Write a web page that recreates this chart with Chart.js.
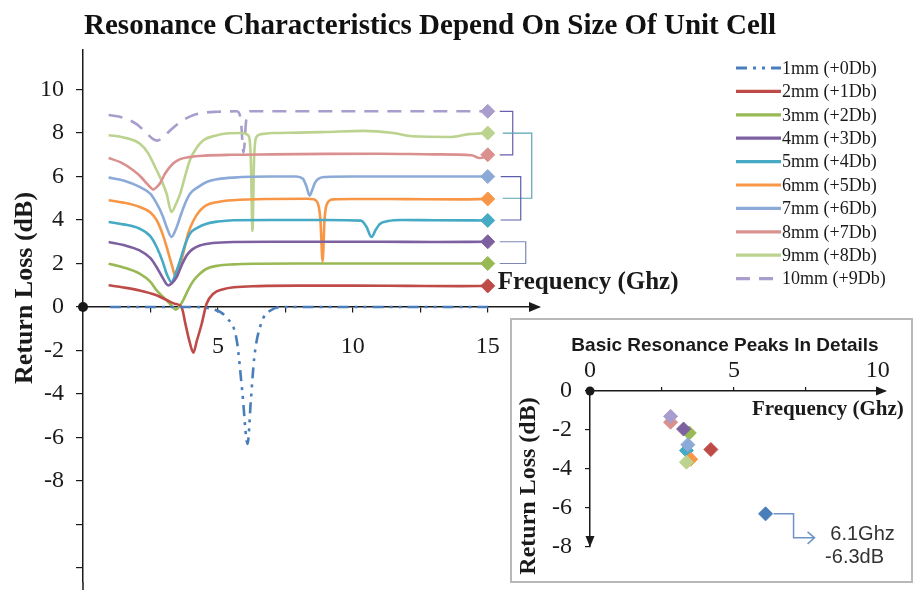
<!DOCTYPE html>
<html>
<head>
<meta charset="utf-8">
<title>Resonance Characteristics</title>
<script src="https://cdn.jsdelivr.net/npm/chart.js@4.4.0/dist/chart.umd.min.js"></script>
<style>
    html, body { margin: 0; padding: 0; background: #fff; }
    #wrap { position: relative; width: 915px; height: 590px; overflow: hidden; background: #fff; }
    #mainChart { position: absolute; left: 0; top: 0; }
    #title {
        position: absolute; left: 0; top: 8px; width: 860px;
        text-align: center; line-height: 28px;
        font: bold 29px "Liberation Serif", serif; color: #111;
    }
    #insetBox {
        position: absolute; left: 510px; top: 318px; width: 399px; height: 261px;
        border: 2px solid #b8b8b8; background: #fff;
    }
</style>
</head>
<body>
<div id="wrap">
    <canvas id="mainChart" width="915" height="590"></canvas>
    <div id="title">Resonance Characteristics Depend On Size Of Unit Cell</div>
    <div id="insetBox"><canvas id="insetChart" width="399" height="261"></canvas></div>
</div>

<script>
// --- data (frequency in GHz, return loss in dB incl. offset) ---
const seriesNames = ['1mm (+0Db)', '2mm (+1Db)', '3mm (+2Db)', '4mm (+3Db)', '5mm (+4Db)',
                     '6mm (+5Db)', '7mm (+6Db)', '8mm (+7Db)', '9mm (+8Db)', '10mm (+9Db)'];

const freq1 = [1, 2, 3, 4, 4.8, 5.3, 5.7, 5.9, 6.1, 6.22, 6.35, 6.6, 6.95, 7.5, 9, 11, 13, 15];
const loss1 = [0, 0, 0, 0, -0.1, -0.47, -1.55, -3.85, -6.3, -4.3, -2.3, -0.77, -0.16, 0, 0, 0, 0, 0];

const freq2 = [0.95, 1.5, 2.1, 2.7, 3.1, 3.4, 3.65, 3.8, 3.95, 4.09, 4.22, 4.4, 4.58, 4.83, 5.2, 5.6, 6.5, 8, 10, 12, 14, 15];
const loss2 = [1.0, 0.9, 0.76, 0.55, 0.32, 0.15, 0.0, -0.8, -1.6, -2.1, -1.55, -0.77, 0.15, 0.61, 0.82, 0.91, 0.96, 0.98, 0.98, 0.97, 0.96, 0.97];

const freq3 = [0.95, 1.5, 2.1, 2.5, 2.73, 2.95, 3.1, 3.3, 3.44, 3.58, 3.71, 3.9, 4.1, 4.35, 4.58, 5.0, 5.57, 6.5, 8, 10, 12, 14, 15];
const loss3 = [1.99, 1.82, 1.53, 1.15, 0.76, 0.48, 0.3, 0.04, -0.13, 0.04, 0.3, 0.8, 1.22, 1.55, 1.76, 1.9, 1.96, 1.99, 2.0, 2.0, 2.0, 2.0, 2.0];

const freq4 = [0.95, 1.5, 2.1, 2.5, 2.73, 2.95, 3.16, 3.3, 3.47, 3.65, 3.84, 4.05, 4.33, 4.8, 5.57, 7, 9, 11, 13, 15];
const loss4 = [2.99, 2.85, 2.6, 2.25, 1.83, 1.35, 0.99, 1.1, 1.37, 1.9, 2.37, 2.65, 2.83, 2.94, 2.99, 3.0, 3.0, 3.0, 2.99, 3.0];

const freq5 = [0.95, 1.5, 2.1, 2.5, 2.73, 2.95, 3.1, 3.28, 3.45, 3.6, 3.78, 3.96, 4.25, 4.58, 5.0, 5.57, 7, 9, 10.3, 10.5, 10.69, 10.85, 11.0, 11.3, 11.8, 13, 15];
const loss5 = [3.91, 3.8, 3.6, 3.25, 2.76, 2.1, 1.53, 1.14, 1.6, 2.14, 2.85, 3.37, 3.65, 3.83, 3.93, 3.99, 4.0, 4.0, 3.97, 3.7, 3.22, 3.55, 3.82, 3.95, 4.0, 3.99, 3.98];

const freq6 = [0.95, 1.5, 2.1, 2.5, 2.73, 2.95, 3.1, 3.3, 3.44, 3.58, 3.71, 3.9, 4.1, 4.35, 4.58, 5.0, 5.57, 7, 8.3, 8.55, 8.72, 8.8, 8.88, 8.95, 9.03, 9.27, 10, 12, 14, 15];
const loss6 = [4.91, 4.8, 4.6, 4.35, 3.99, 3.35, 2.76, 1.9, 1.37, 1.85, 2.45, 3.4, 3.99, 4.45, 4.68, 4.83, 4.91, 4.97, 4.98, 4.95, 4.7, 3.99, 2.1, 3.99, 4.7, 4.95, 4.97, 4.96, 4.95, 4.97];

const freq7 = [0.95, 1.5, 2.1, 2.5, 2.73, 2.95, 3.1, 3.28, 3.45, 3.6, 3.78, 3.96, 4.25, 4.58, 5.0, 5.57, 7, 7.9, 8.15, 8.28, 8.4, 8.5, 8.6, 8.75, 9.0, 10, 12, 14, 15];
const loss7 = [5.95, 5.82, 5.52, 5.2, 4.76, 4.2, 3.68, 3.22, 3.6, 4.14, 4.75, 5.2, 5.5, 5.75, 5.88, 5.95, 6.0, 6.0, 5.9, 5.55, 5.12, 5.4, 5.72, 5.92, 5.98, 6.0, 6.0, 6.0, 6.0];

const freq8 = [0.95, 1.4, 1.86, 2.15, 2.36, 2.5, 2.6, 2.72, 2.85, 3.05, 3.34, 3.6, 3.96, 4.5, 5.5, 7, 9, 11, 13, 14.4, 14.7, 14.85, 15];
const loss8 = [6.85, 6.65, 6.29, 5.98, 5.68, 5.5, 5.4, 5.5, 5.68, 6.15, 6.6, 6.8, 6.9, 6.96, 7.0, 7.02, 7.04, 7.05, 7.02, 6.98, 6.85, 6.88, 7.0];

const freq9 = [0.95, 1.5, 2.1, 2.4, 2.73, 2.95, 3.1, 3.28, 3.45, 3.6, 3.78, 3.96, 4.2, 4.46, 4.9, 5.3, 5.86, 6.12, 6.22, 6.28, 6.34, 6.42, 6.6, 7, 8, 9, 10.4, 11.5, 12.2, 13.6, 14.3, 15];
const loss9 = [7.9, 7.8, 7.52, 7.1, 6.29, 5.7, 5.2, 4.37, 4.75, 5.2, 6.0, 6.75, 7.3, 7.67, 7.88, 7.98, 8.0, 7.9, 6.8, 3.5, 6.8, 7.8, 7.95, 8.0, 8.02, 8.05, 8.1, 8.0, 7.85, 7.82, 7.95, 8.0];

const freq10 = [0.95, 1.5, 2.0, 2.35, 2.6, 2.75, 2.95, 3.3, 3.6, 4.0, 4.4, 5.0, 5.7, 5.85, 5.95, 6.05, 6.2, 7, 9, 11, 13, 15];
const loss10 = [8.83, 8.7, 8.4, 8.0, 7.72, 7.65, 7.8, 8.2, 8.5, 8.78, 8.92, 8.98, 9.0, 8.6, 7.1, 8.6, 9.0, 9.0, 9.0, 9.0, 9.0, 9.0];

const seriesFreq = [freq1, freq2, freq3, freq4, freq5, freq6, freq7, freq8, freq9, freq10];
const seriesLoss = [loss1, loss2, loss3, loss4, loss5, loss6, loss7, loss8, loss9, loss10];

// basic resonance peaks (inset), same order as the series
const peakFreq = [6.1, 4.2, 3.45, 3.25, 3.35, 3.5, 3.4, 2.8, 3.35, 2.8];
const peakLoss = [-6.3, -3.0, -2.15, -1.95, -3.05, -3.5, -2.75, -1.6, -3.65, -1.3];

// brackets pairing the curve ends at 15 GHz
const bracketTop = [9, 8, 6, 3];
const bracketBottom = [7, 5, 4, 2];

// --- styles ---
const seriesColors = ['#4a7ebb', '#be4b48', '#98b954', '#7d60a0', '#46aac5',
                      '#f79646', '#8caad8', '#d9908e', '#bcd38f', '#a89dcc'];
const seriesDash = [[11, 6, 3, 6, 3, 6], [], [], [], [], [], [], [], [], [14, 9]];
const bracketColors = ['#6a5fae', '#5ba3b5', '#5b5eaa', '#7f88b5'];
const bracketReach = [25, 44, 33, 38];
const bracketStart = [12, 15, 13, 12];

const SERIF = '"Liberation Serif", "Times New Roman", serif';
const SANS = '"Liberation Sans", Arial, sans-serif';
const INK = '#1a1a1a';

// Build line datasets
function buildDatasets() {
    return seriesNames.map((name, i) => ({
        label: name,
        data: seriesFreq[i].map((f, k) => ({ x: f, y: seriesLoss[i][k] })),
        borderColor: seriesColors[i],
        backgroundColor: seriesColors[i],
        borderWidth: 2.6,
        borderDash: seriesDash[i],
        cubicInterpolationMode: 'monotone',
        pointStyle: 'rectRot',
        pointRadius: (ctx) => (i > 0 && ctx.dataIndex === ctx.dataset.data.length - 1) ? 7 : 0,
        pointBackgroundColor: seriesColors[i],
        pointBorderColor: seriesColors[i],
        pointBorderWidth: 1
    }));
}

function drawTriangle(ctx, pts) {
    ctx.beginPath();
    ctx.moveTo(pts[0], pts[1]);
    ctx.lineTo(pts[2], pts[3]);
    ctx.lineTo(pts[4], pts[5]);
    ctx.closePath();
    ctx.fill();
}

// Axis decorations, brackets, axis names and legend of the main chart
const mainDecor = {
    id: 'mainDecor',
    afterDraw(chart) {
        const { ctx, chartArea } = chart;
        const xs = chart.scales.x, ys = chart.scales.y;
        const x0 = xs.getPixelForValue(0), y0 = ys.getPixelForValue(0);
        const xEnd = xs.getPixelForValue(15);
        ctx.save();

        // y axis runs on to the bottom edge
        ctx.strokeStyle = INK;
        ctx.lineWidth = 1.5;
        ctx.beginPath();
        ctx.moveTo(chartArea.left, chartArea.bottom);
        ctx.lineTo(chartArea.left, chart.height);
        ctx.stroke();

        // origin dot and x-axis arrow
        ctx.fillStyle = INK;
        ctx.beginPath();
        ctx.arc(x0, y0, 5, 0, Math.PI * 2);
        ctx.fill();
        drawTriangle(ctx, [chartArea.right + 2, y0, chartArea.right - 10, y0 - 5, chartArea.right - 10, y0 + 5]);

        // brackets
        ctx.lineWidth = 1.2;
        bracketTop.forEach((top, i) => {
            const yt = ys.getPixelForValue(top), yb = ys.getPixelForValue(bracketBottom[i]);
            const xa = xEnd + bracketStart[i], xb = xEnd + bracketReach[i];
            ctx.strokeStyle = bracketColors[i];
            ctx.beginPath();
            ctx.moveTo(xa, yt); ctx.lineTo(xb, yt); ctx.lineTo(xb, yb); ctx.lineTo(xa, yb);
            ctx.stroke();
        });

        // x-axis name
        ctx.fillStyle = INK;
        ctx.font = 'bold 25px ' + SERIF;
        ctx.textAlign = 'left';
        ctx.textBaseline = 'middle';
        ctx.fillText('Frequency (Ghz)', xEnd + 10, ys.getPixelForValue(1.13));

        // legend
        ctx.font = '18px ' + SERIF;
        chart.data.datasets.forEach((ds, i) => {
            const ly = 68 + i * 23.4;
            ctx.strokeStyle = ds.borderColor;
            ctx.lineWidth = 3.2;
            ctx.setLineDash(ds.borderDash);
            ctx.beginPath();
            ctx.moveTo(736, ly); ctx.lineTo(781, ly);
            ctx.stroke();
            ctx.setLineDash([]);
            ctx.fillStyle = INK;
            ctx.fillText(ds.label, 782, ly + 1);
        });

        // y-axis name
        ctx.translate(25, 288);
        ctx.rotate(-Math.PI / 2);
        ctx.font = 'bold 26px ' + SERIF;
        ctx.textAlign = 'center';
        ctx.fillText('Return Loss (dB)', 0, 0);
        ctx.restore();
    }
};

const mainChart = new Chart(document.getElementById('mainChart'), {
    type: 'line',
    data: { datasets: buildDatasets() },
    options: {
        responsive: false,
        animation: false,
        layout: { padding: { top: 50, right: 376, bottom: 0, left: 0 } },
        plugins: { legend: { display: false }, tooltip: { enabled: false } },
        scales: {
            x: {
                type: 'linear',
                min: 0,
                max: 16.9,
                position: { y: 0 },
                afterFit: (scale) => { scale.height = 0; scale.paddingLeft = 0; scale.paddingRight = 0; },
                grid: { drawOnChartArea: false, color: INK, tickLength: 5, lineWidth: 1.2 },
                border: { color: INK, width: 1.5 },
                ticks: {
                    stepSize: 2.5,
                    includeBounds: false,
                    autoSkip: false,
                    maxRotation: 0,
                    padding: 20,
                    color: INK,
                    font: { family: SERIF, size: 24 },
                    callback: (v) => (v > 0 && v % 5 === 0) ? String(v) : ''
                }
            },
            y: {
                min: -12.65,
                max: 11.82,
                afterFit: (scale) => { scale.width = 83; scale.paddingTop = 0; scale.paddingBottom = 0; },
                grid: { drawOnChartArea: false, color: INK, tickLength: 7, lineWidth: 1.2 },
                border: { color: INK, width: 1.5 },
                ticks: {
                    stepSize: 2,
                    includeBounds: false,
                    autoSkip: false,
                    padding: 12,
                    color: INK,
                    font: { family: SERIF, size: 24 },
                    callback: (v) => v >= -8 ? String(v) : ''
                }
            }
        }
    },
    plugins: [mainDecor]
});

// Inset: arrows, titles and the 1mm callout
const insetDecor = {
    id: 'insetDecor',
    afterDraw(chart) {
        const { ctx, chartArea } = chart;
        const xs = chart.scales.x, ys = chart.scales.y;
        const x0 = xs.getPixelForValue(0), y0 = ys.getPixelForValue(0);
        ctx.save();
        ctx.fillStyle = INK;
        ctx.beginPath();
        ctx.arc(x0, y0, 4.5, 0, Math.PI * 2);
        ctx.fill();
        drawTriangle(ctx, [chartArea.right + 2, y0, chartArea.right - 9, y0 - 4.5, chartArea.right - 9, y0 + 4.5]);
        drawTriangle(ctx, [x0, chartArea.bottom, x0 - 4.5, chartArea.bottom - 11, x0 + 4.5, chartArea.bottom - 11]);

        // chart title
        ctx.font = 'bold 19px ' + SANS;
        ctx.textAlign = 'center';
        ctx.textBaseline = 'middle';
        ctx.fillText('Basic Resonance Peaks In Details', 213, 26);

        // x-axis name
        ctx.font = 'bold 21px ' + SERIF;
        ctx.textAlign = 'left';
        ctx.fillText('Frequency (Ghz)', 240, 90);

        // callout for the 1mm peak
        const px = xs.getPixelForValue(peakFreq[0]), py = ys.getPixelForValue(peakLoss[0]);
        ctx.strokeStyle = '#6f93c9';
        ctx.lineWidth = 1.5;
        ctx.beginPath();
        ctx.moveTo(px + 8, py); ctx.lineTo(px + 28, py); ctx.lineTo(px + 28, py + 24); ctx.lineTo(px + 49, py + 24);
        ctx.moveTo(px + 42, py + 18); ctx.lineTo(px + 49, py + 24); ctx.lineTo(px + 42, py + 30);
        ctx.stroke();
        ctx.fillStyle = '#333';
        ctx.font = '20px ' + SANS;
        ctx.textAlign = 'center';
        ctx.fillText(peakFreq[0] + 'Ghz', px + 97, py + 21);
        ctx.fillText(peakLoss[0] + 'dB', px + 89, py + 44);

        // y-axis name
        ctx.fillStyle = INK;
        ctx.translate(17, 166);
        ctx.rotate(-Math.PI / 2);
        ctx.font = 'bold 24px ' + SERIF;
        ctx.fillText('Return Loss (dB)', 0, 0);
        ctx.restore();
    }
};

const insetChart = new Chart(document.getElementById('insetChart'), {
    type: 'scatter',
    data: {
        datasets: [{
            label: 'Basic resonance peaks',
            data: peakFreq.map((f, i) => ({ x: f, y: peakLoss[i] })),
            pointStyle: 'rectRot',
            pointRadius: 7,
            pointBackgroundColor: seriesColors,
            pointBorderColor: seriesColors,
            pointBorderWidth: 1
        }]
    },
    options: {
        responsive: false,
        animation: false,
        layout: { padding: { top: 0, right: 26, bottom: 34, left: 0 } },
        plugins: { legend: { display: false }, tooltip: { enabled: false } },
        scales: {
            x: {
                type: 'linear',
                position: 'top',
                min: 0,
                max: 10.25,
                afterFit: (scale) => { scale.height = 71; scale.paddingLeft = 0; scale.paddingRight = 0; },
                grid: { drawOnChartArea: false, color: INK, tickLength: 4, lineWidth: 1.2 },
                border: { color: INK, width: 1.5 },
                ticks: {
                    stepSize: 2.5,
                    includeBounds: false,
                    autoSkip: false,
                    maxRotation: 0,
                    padding: 2,
                    color: INK,
                    font: { family: SERIF, size: 24 },
                    callback: (v) => v % 5 === 0 ? String(v) : ''
                }
            },
            y: {
                min: -8,
                max: 0,
                afterFit: (scale) => { scale.width = 78; scale.paddingTop = 0; scale.paddingBottom = 0; },
                grid: { drawOnChartArea: false, color: INK, tickLength: 5, lineWidth: 1.2 },
                border: { color: INK, width: 1.5 },
                ticks: {
                    stepSize: 2,
                    autoSkip: false,
                    padding: 13,
                    color: INK,
                    font: { family: SERIF, size: 24 }
                }
            }
        }
    },
    plugins: [insetDecor]
});
</script>
</body>
</html>
